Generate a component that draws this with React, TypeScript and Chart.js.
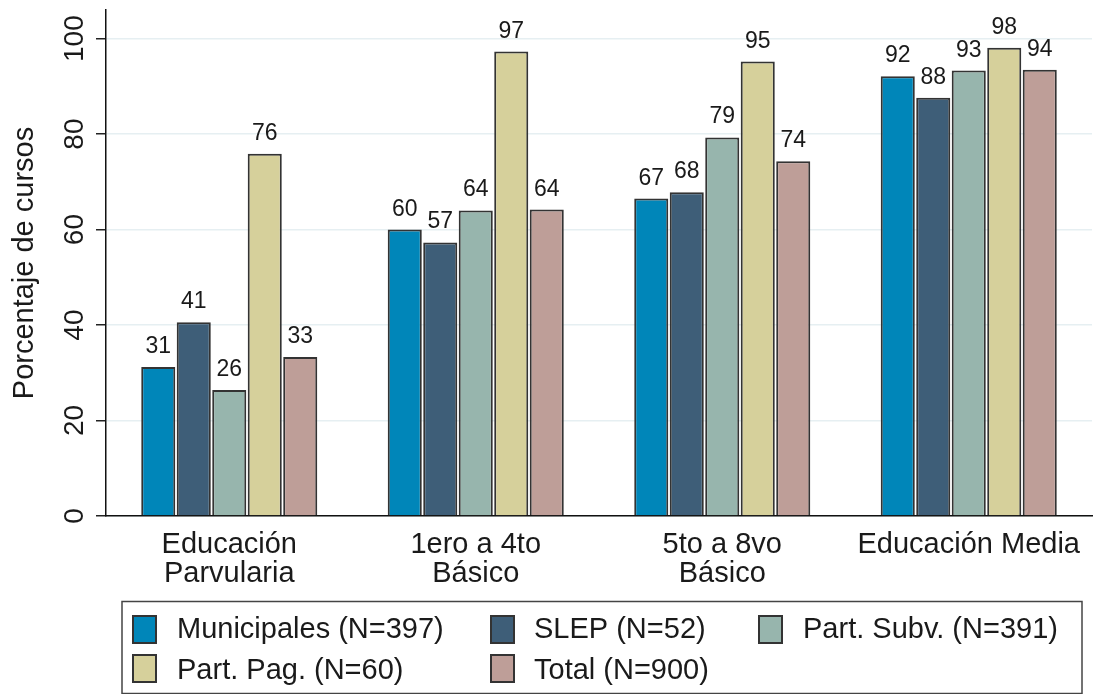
import React, { useEffect, useRef } from "react";
import { Chart, registerables } from "chart.js";

Chart.register(...registerables);

const categories = [
  ["Educación", "Parvularia"],
  ["1ero a 4to", "Básico"],
  ["5to a 8vo", "Básico"],
  ["Educación Media"],
];
const seriesNames = [
  "Municipales (N=397)",
  "SLEP (N=52)",
  "Part. Subv. (N=391)",
  "Part. Pag. (N=60)",
  "Total (N=900)",
];
const municipales = [31.2, 60.0, 66.5, 92.1];
const slep = [40.6, 57.3, 67.8, 87.6];
const partSubv = [26.4, 64.0, 79.3, 93.3];
const partPag = [75.9, 97.3, 95.2, 98.1];
const total = [33.3, 64.2, 74.3, 93.5];
const yTicks = [0, 20, 40, 60, 80, 100];
const yTitle = "Porcentaje de cursos";

const seriesValues = [municipales, slep, partSubv, partPag, total];
const colors = ["#0086b9", "#3e5e78", "#97b5ad", "#d6d09b", "#be9e98"];

const FONT = '"Liberation Sans", Arial, sans-serif';
const TEXT = "#1a1a1a";

const overlay = {
  id: "overlay",
  afterDatasetsDraw(chart: any) {
    const ctx = chart.ctx;
    ctx.save();
    ctx.font = `23px ${FONT}`;
    ctx.fillStyle = TEXT;
    ctx.textAlign = "center";
    ctx.textBaseline = "alphabetic";
    chart.data.datasets.forEach((ds: any, i: number) => {
      const meta = chart.getDatasetMeta(i);
      meta.data.forEach((el: any, j: number) => {
        ctx.fillText(String(Math.round(ds.data[j])), el.x, el.y - 14);
      });
    });
    ctx.restore();
  },
  afterDraw(chart: any) {
    const ctx = chart.ctx;
    const ys = chart.scales.y;
    const area = chart.chartArea;
    ctx.save();
    ctx.fillStyle = TEXT;
    ctx.textBaseline = "alphabetic";
    ctx.textAlign = "center";
    ctx.font = `28px ${FONT}`;
    yTicks.forEach((v) => {
      const py = ys.getPixelForValue(v);
      ctx.save();
      ctx.translate(83, py);
      ctx.rotate(-Math.PI / 2);
      ctx.fillText(String(v), 0, 0);
      ctx.restore();
    });
    ctx.save();
    ctx.font = `29px ${FONT}`;
    ctx.translate(33, (area.top + area.bottom) / 2);
    ctx.rotate(-Math.PI / 2);
    ctx.fillText(yTitle, 0, 0);
    ctx.restore();

    // legend box
    ctx.strokeStyle = "#444";
    ctx.lineWidth = 1.5;
    ctx.strokeRect(122, 601.5, 960, 92);
    const swX = [133, 491, 759];
    const txX = [177, 534, 803];
    const swY = [616, 655];
    const txY = [638, 679];
    ctx.font = `29px ${FONT}`;
    ctx.textAlign = "left";
    seriesNames.forEach((name, i) => {
      const c = i % 3;
      const r = Math.floor(i / 3);
      ctx.fillStyle = colors[i];
      ctx.fillRect(swX[c], swY[r], 23, 27);
      ctx.strokeStyle = "#333";
      ctx.lineWidth = 2;
      ctx.strokeRect(swX[c], swY[r], 23, 27);
      ctx.fillStyle = TEXT;
      ctx.fillText(name, txX[c], txY[r]);
    });
    ctx.restore();
  },
};

export default function App() {
  const ref = useRef<HTMLCanvasElement | null>(null);
  useEffect(() => {
    if (!ref.current) return;
    const chart = new Chart(ref.current, {
      type: "bar",
      data: {
        labels: categories as any,
        datasets: seriesNames.map((name, i) => ({
          label: name,
          data: seriesValues[i],
          backgroundColor: colors[i],
          borderColor: "#333",
          borderWidth: 2,
          categoryPercentage: 0.72,
          barPercentage: 0.96,
        })),
      },
      options: {
        animation: false,
        responsive: false,
        devicePixelRatio: 1,
        layout: { padding: { top: 10, right: 10, left: 0, bottom: 94 } },
        plugins: {
          legend: { display: false },
          tooltip: { enabled: false },
        },
        scales: {
          x: {
            grid: { display: false, drawTicks: false },
            border: { color: "#111", width: 1.5 },
            ticks: {
              color: TEXT,
              font: { family: FONT, size: 29, lineHeight: 1.02 },
              padding: 14,
              maxRotation: 0,
              autoSkip: false,
            },
            afterFit: (s: any) => {
              s.height = 84;
            },
          },
          y: {
            min: 0,
            max: 106,
            ticks: { stepSize: 20, display: false, includeBounds: false },
            grid: {
              color: "#e6eff2",
              lineWidth: 1.5,
              tickLength: 10,
              tickColor: "#222",
              drawTicks: true,
            },
            border: { color: "#111", width: 1.5 },
            afterFit: (s: any) => {
              s.width = 106;
            },
          },
        },
      },
      plugins: [overlay],
    });
    return () => chart.destroy();
  }, []);
  return (
    <div
      style={{
        position: "fixed",
        left: 0,
        top: 0,
        width: 1102,
        height: 694,
        background: "#fff",
        overflow: "hidden",
      }}
    >
      <canvas ref={ref} width={1102} height={694} style={{ display: "block" }} />
    </div>
  );
}
